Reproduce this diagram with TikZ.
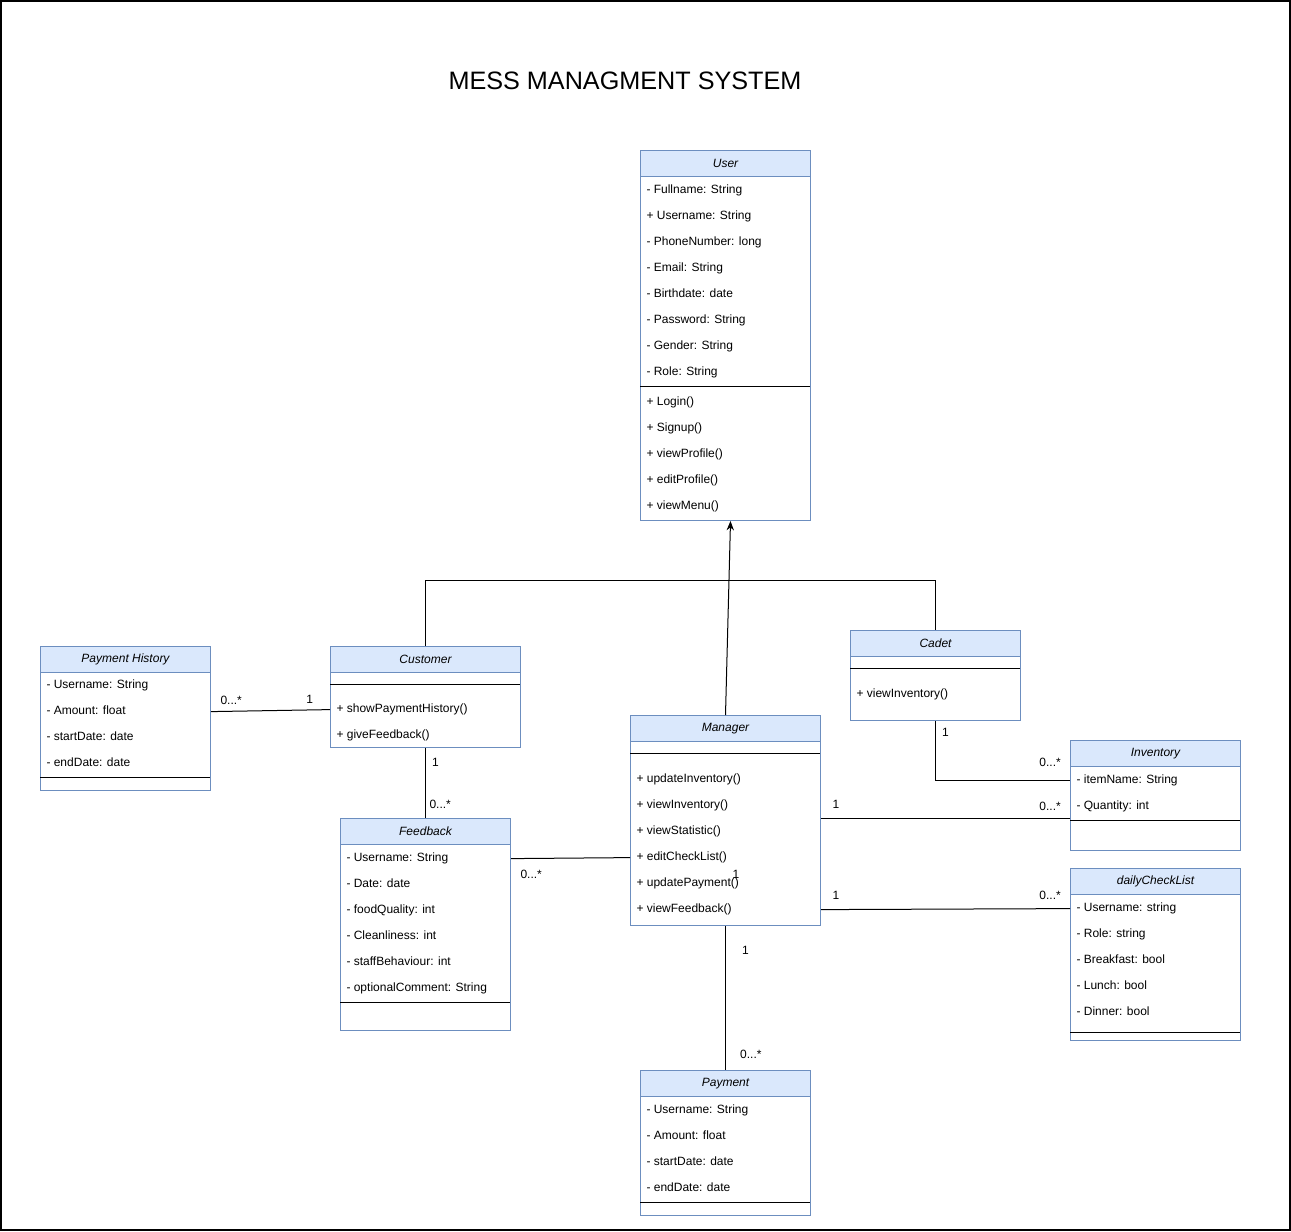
\documentclass[tikz,border=0pt]{standalone}
\usepackage{fontspec}
\setmainfont{Liberation Sans}
\usepackage{xcolor}
\usepackage{tikz}
\usetikzlibrary{positioning}
\usetikzlibrary{arrows.meta}
\definecolor{umlblue}{HTML}{6C8EBF}
\definecolor{umlhead}{HTML}{DAE8FC}

\begin{document}
\begin{tikzpicture}
        [x=0.75pt, y=-0.75pt, line width=0.75pt,
         font=\fontsize{9}{11}\selectfont,
         >={Stealth[length=7pt,width=5.5pt]},
         cls/.style = {draw=umlblue, fill=white, anchor=north west, inner sep=0pt},
         head/.style = {draw=umlblue, fill=umlhead, anchor=north west, minimum height=19.5pt, inner sep=0pt, font=\fontsize{9}{11}\selectfont\itshape},
         row/.style = {anchor=west, inner sep=0pt, yshift=-1.2pt, text height=6.5pt, text depth=1.8pt},
         mult/.style = {inner sep=0pt, text height=6.5pt, text depth=0pt}]

    \useasboundingbox (0,0) rectangle (1291,1231);
    \draw[line width=1.1pt] (1,1) rectangle (1290,1230);

    \node[font=\fontsize{18.9}{22}\selectfont] (title) at (625,81) {MESS MANAGMENT SYSTEM};

    % User
    \node[cls, minimum width=127.5pt, minimum height=277.5pt] (user) at (640,150) {};
    \node[head, minimum width=127.5pt] (user-h) at (640,150) {User};
    \foreach \t [count=\i] in {- Fullname: String, + Username: String, - PhoneNumber: long, - Email: String, - Birthdate: date, - Password: String, - Gender: String, - Role: String}
        \node[row] (user-a\i) at (646,163+26*\i) {\t};
    \draw (640,386) -- (810,386);
    \foreach \t [count=\i] in {+ Login(), + Signup(), + viewProfile(), + editProfile(), + viewMenu()}
        \node[row] (user-m\i) at (646,375+26*\i) {\t};

    % Payment History
    \node[cls, minimum width=127.5pt, minimum height=108pt] (payhist) at (40,646) {};
    \node[head, minimum width=127.5pt] (payhist-h) at (40,646) {Payment History};
    \foreach \t [count=\i] in {- Username: String, - Amount: float, - startDate: date, - endDate: date}
        \node[row] (payhist-a\i) at (46,658+26*\i) {\t};
    \draw (40,777) -- (210,777);

    % Customer
    \node[cls, minimum width=142.5pt, minimum height=75.75pt] (customer) at (330,646) {};
    \node[head, minimum width=142.5pt] (customer-h) at (330,646) {Customer};
    \draw (330,684) -- (520,684);
    \foreach \t [count=\i] in {+ showPaymentHistory(), + giveFeedback()}
        \node[row] (customer-m\i) at (336,682+26*\i) {\t};

    % Cadet
    \node[cls, minimum width=127.5pt, minimum height=67.5pt] (cadet) at (850,630) {};
    \node[head, minimum width=127.5pt] (cadet-h) at (850,630) {Cadet};
    \draw (850,668) -- (1020,668);
    \node[row] (cadet-m1) at (856,693) {+ viewInventory()};

    % Manager
    \node[cls, minimum width=142.5pt, minimum height=157.5pt] (manager) at (630,715) {};
    \node[head, minimum width=142.5pt] (manager-h) at (630,715) {Manager};
    \draw (630,753) -- (820,753);
    \foreach \t [count=\i] in {+ updateInventory(), + viewInventory(), + viewStatistic(), + editCheckList(), + updatePayment(), + viewFeedback()}
        \node[row] (manager-m\i) at (636,752+26*\i) {\t};

    % Inventory
    \node[cls, minimum width=127.5pt, minimum height=82.5pt] (inventory) at (1070,740) {};
    \node[head, minimum width=127.5pt] (inventory-h) at (1070,740) {Inventory};
    \foreach \t [count=\i] in {- itemName: String, - Quantity: int}
        \node[row] (inventory-a\i) at (1076,753+26*\i) {\t};
    \draw (1070,820) -- (1240,820);

    % dailyCheckList
    \node[cls, minimum width=127.5pt, minimum height=129pt] (daily) at (1070,868) {};
    \node[head, minimum width=127.5pt] (daily-h) at (1070,868) {dailyCheckList};
    \foreach \t [count=\i] in {- Username: string, - Role: string, - Breakfast: bool, - Lunch: bool, - Dinner: bool}
        \node[row] (daily-a\i) at (1076,881+26*\i) {\t};
    \draw (1070,1032) -- (1240,1032);

    % Feedback
    \node[cls, minimum width=127.5pt, minimum height=159pt] (feedback) at (340,818) {};
    \node[head, minimum width=127.5pt] (feedback-h) at (340,818) {Feedback};
    \foreach \t [count=\i] in {- Username: String, - Date: date, - foodQuality: int, - Cleanliness: int, - staffBehaviour: int, - optionalComment: String}
        \node[row] (feedback-a\i) at (346,831+26*\i) {\t};
    \draw (340,1002) -- (510,1002);

    % Payment
    \node[cls, minimum width=127.5pt, minimum height=108.75pt] (payment) at (640,1070) {};
    \node[head, minimum width=127.5pt] (payment-h) at (640,1070) {Payment};
    \foreach \t [count=\i] in {- Username: String, - Amount: float, - startDate: date, - endDate: date}
        \node[row] (payment-a\i) at (646,1083+26*\i) {\t};
    \draw (640,1202) -- (810,1202);

    \draw[->] (manager.north) to ([xshift=3.75pt]user.south);
    \draw (customer.north) -- ++(0,-66) -| (cadet.north);

    \draw (payhist.east |- payhist-a2) to node[mult, pos=0.17, yshift=8pt] (m-ph) {0...*} node[mult, pos=0.83, yshift=8pt] (m-cu) {1} (customer.west |- customer-m1);
    \draw (customer.south) to node[mult, pos=0.2, xshift=7.5pt] (m-cu2) {1} node[mult, pos=0.8, xshift=11pt] (m-fb) {0...*} (feedback.north);
    \draw (feedback.east |- feedback-a1) to node[mult, pos=0.17, yshift=-11.5pt] (m-fb2) {0...*} (manager.west |- manager-m4);
    \node[mult] (m-ma) at (736,874) {1};
    \draw (cadet.south) |- node[mult, pos=0.09, xshift=7.5pt] (m-ca) {1} node[mult, pos=0.926, yshift=13.5pt] (m-in) {0...*} (inventory.west |- inventory-a1);
    \draw ([yshift=1.5pt]manager.east) to node[mult, pos=0.06, yshift=10.5pt] (m-ma2) {1} node[mult, pos=0.92, yshift=9pt] (m-in2) {0...*} ([yshift=1.5pt]manager.east -| inventory.west);
    \draw (manager.east |- manager-m6) to node[mult, pos=0.06, yshift=10.5pt] (m-ma3) {1} node[mult, pos=0.92, yshift=10pt] (m-da) {0...*} (daily.west |- daily-a1);
    \draw (manager.south) to node[mult, pos=0.165, xshift=15pt] (m-ma4) {1} node[mult, pos=0.89, xshift=19pt] (m-pa) {0...*} (payment.north);
\end{tikzpicture}
\end{document}
